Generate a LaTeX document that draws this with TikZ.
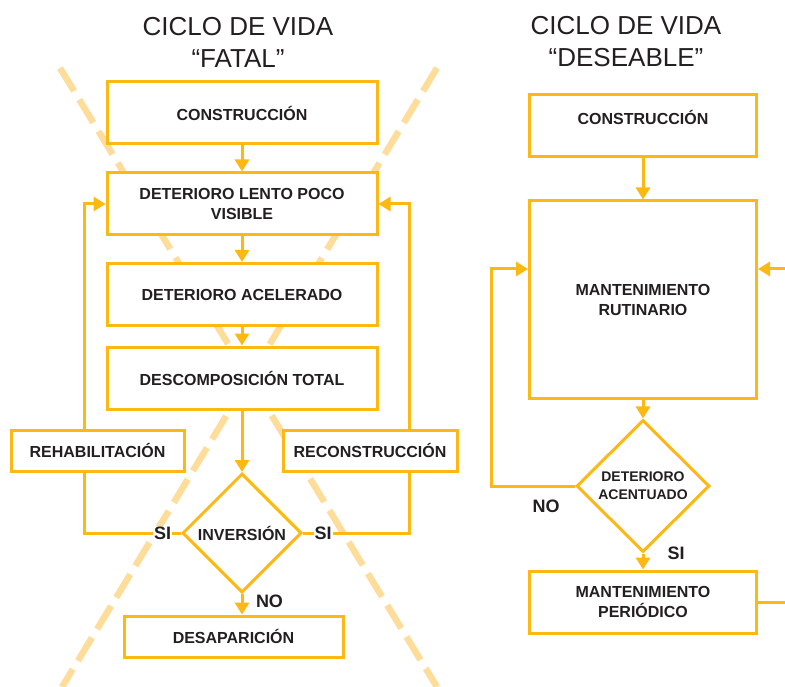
\documentclass[tikz,border=0pt]{standalone}
\usepackage{fontspec}
\setmainfont{Liberation Sans}
\usetikzlibrary{arrows.meta,shapes.geometric}
\definecolor{ambar}{RGB}{253,184,19}
\definecolor{durazno}{RGB}{254,221,155}
\definecolor{tinta}{RGB}{35,31,32}

\begin{document}
\begin{tikzpicture}[x=1pt, y=-1pt,
    caja/.style={draw=ambar, line width=3pt, fill=white, text=tinta, align=center,
        font=\bfseries\fontsize{16}{20}\selectfont, inner sep=0pt},
    rombo/.style={diamond, draw=ambar, line width=3pt, fill=white, text=tinta,
        align=center, inner sep=0pt},
    flecha/.style={draw=ambar, line width=3pt, -{Triangle[width=14pt,length=12pt]}},
    linea/.style={draw=ambar, line width=3pt},
    etiqueta/.style={text=tinta, font=\bfseries\fontsize{18}{20}\selectfont, inner sep=1pt},
    titulo/.style={text=tinta, align=center, font=\fontsize{26}{32}\selectfont},
    corte/.style={draw=durazno, line width=6.5pt, dash pattern=on 27pt off 10pt}]
    \useasboundingbox (0,0) rectangle (785,687);
    \clip (0,0) rectangle (785,687);

    \draw[corte] (60,68) -- (437,687);
    \draw[corte] (437,68) -- (62,687);

    \node[titulo] (tituloF) at (238,42) {CICLO DE VIDA\\“FATAL”};
    \node[titulo] (tituloD) at (626,42) {CICLO DE VIDA\\“DESEABLE”};

    \node[caja, minimum width=270, minimum height=62] (cons) at (242,113) {CONSTRUCCIÓN};
    \node[caja, minimum width=270, minimum height=62] (lento) at (242,204) {DETERIORO LENTO POCO\\VISIBLE};
    \node[caja, minimum width=270, minimum height=62] (acel) at (242,294.5) {DETERIORO ACELERADO};
    \node[caja, minimum width=270, minimum height=62] (desc) at (242,378) {DESCOMPOSICIÓN TOTAL};
    \node[caja, minimum width=173, minimum height=41] (reh) at (97.5,450.5) {REHABILITACIÓN};
    \node[caja, minimum width=174, minimum height=41] (recon) at (370,450.5) {RECONSTRUCCIÓN};
    \node[rombo, minimum width=119, minimum height=119,
        font=\bfseries\fontsize{16}{20}\selectfont] (inv) at (242,533) {INVERSIÓN};
    \node[caja, minimum width=219, minimum height=41] (desap) at (233.5,636.5) {DESAPARICIÓN};

    \foreach \a/\b in {cons/lento, lento/acel, acel/desc, desc/inv}
    \draw[flecha] (\a) -- (\b);
    \draw[flecha] (inv.south) -- (inv.south |- desap.north);
    \node[etiqueta] (no1) at (269.5,601) {NO};

    \coordinate (codoI) at (84,533);
    \coordinate (codoD) at (409,533);
    \draw[linea] (inv.west) -- node[etiqueta, fill=white, pos=0.19] (si1) {SI} (codoI) -- (codoI |- reh.south);
    \draw[flecha] (codoI |- reh.north) |- (lento.west);
    \draw[linea] (inv.east) -- node[etiqueta, fill=white, pos=0.19] (si2) {SI} (codoD) -- (codoD |- recon.south);
    \draw[flecha] (codoD |- recon.north) |- (lento.east);

    \node[caja, minimum width=227, minimum height=62, text height=12pt, text depth=14pt] (cons2) at (643,126) {CONSTRUCCIÓN};
    \node[caja, minimum width=227, minimum height=197] (rut) at (643,299.5) {MANTENIMIENTO\\RUTINARIO};
    \node[rombo, minimum width=133, minimum height=132,
        font=\bfseries\fontsize{14}{18}\selectfont] (dac) at (643,486) {DETERIORO\\ACENTUADO};
    \node[caja, minimum width=227, minimum height=62] (per) at (643,602) {MANTENIMIENTO\\PERIÓDICO};

    \foreach \a/\b in {cons2/rut, rut/dac, dac/per}
    \draw[flecha] (\a) -- (\b);

    \coordinate (retI) at (491,269);
    \coordinate (retD) at (800,269);
    \draw[flecha] (dac.west) -| (retI) -- (retI -| rut.west);
    \draw[flecha] (per.east) -| (retD) -- (retD -| rut.east);
    \node[etiqueta] (no2) at (546,506) {NO};
    \node[etiqueta] (si3) at (676,553) {SI};

\end{tikzpicture}
\end{document}
